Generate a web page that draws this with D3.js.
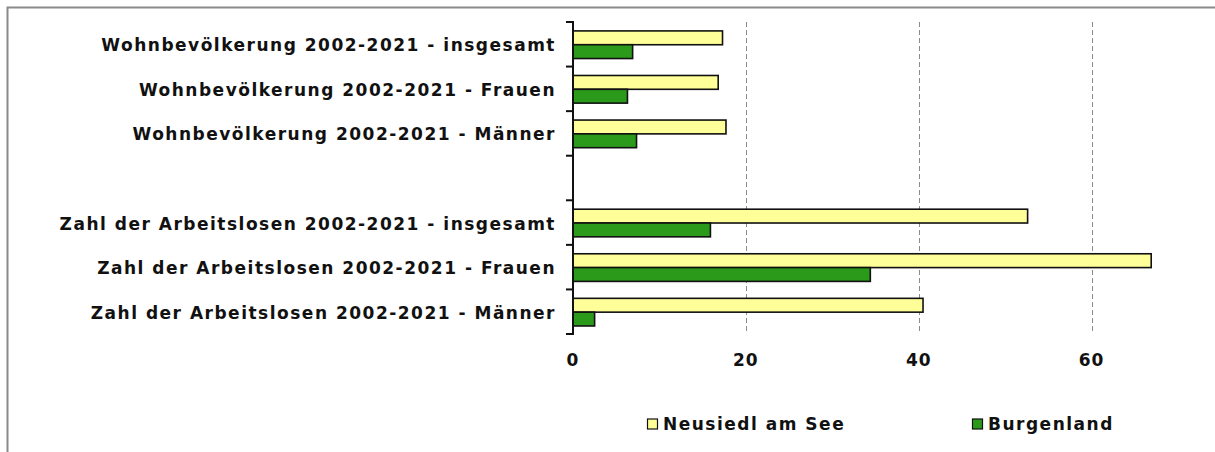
<!DOCTYPE html>
<html>
<head>
<meta charset="utf-8">
<script src="https://cdn.jsdelivr.net/npm/d3@7"></script>
<style>
  html, body { margin: 0; padding: 0; background: #fff; }
  svg { display: block; font-family: "DejaVu Sans", Verdana, sans-serif; font-weight: bold; }
</style>
</head>
<body>
<div id="chart"></div>
<script>
// categories top to bottom ('' is the empty gap row)
const categories = [
  'Wohnbevölkerung 2002-2021 - insgesamt',
  'Wohnbevölkerung 2002-2021 - Frauen',
  'Wohnbevölkerung 2002-2021 - Männer',
  '',
  'Zahl der Arbeitslosen 2002-2021 - insgesamt',
  'Zahl der Arbeitslosen 2002-2021 - Frauen',
  'Zahl der Arbeitslosen 2002-2021 - Männer'
];
const seriesNames = ['Neusiedl am See', 'Burgenland'];
const neusiedl = [17.3, 16.8, 17.7, null, 52.6, 66.9, 40.5];
const burgenland = [6.9, 6.3, 7.35, null, 15.9, 34.4, 2.5];
const xTicks = [0, 20, 40, 60];
const colors = ['#ffff99', '#2b9a1b'];

function drawChart() {
  const width = 1215, height = 452;
  const margin = { top: 22, right: 37, bottom: 118, left: 573 };

  const svg = d3.select('#chart').append('svg')
    .attr('width', width)
    .attr('height', height);

  // outer frame (top and left only visible)
  svg.append('path')
    .attr('d', `M7.5,${height}V7.5H${width}`)
    .attr('fill', 'none')
    .attr('stroke', '#8a8a8a')
    .attr('stroke-width', 2);

  const x = d3.scaleLinear()
    .domain([0, 70])
    .range([margin.left, width - margin.right]);

  const y = d3.scaleBand()
    .domain(d3.range(categories.length))
    .range([margin.top, height - margin.bottom]);

  const ySub = d3.scaleBand()
    .domain([0, 1])
    .range([y.bandwidth() * 0.2, y.bandwidth() * 0.82]);

  // dashed gridlines
  svg.append('g')
    .selectAll('line')
    .data(xTicks.filter(d => d > 0))
    .join('line')
    .attr('x1', d => Math.round(x(d)) + 0.5)
    .attr('x2', d => Math.round(x(d)) + 0.5)
    .attr('y1', margin.top)
    .attr('y2', height - margin.bottom)
    .attr('stroke', '#8a8a8a')
    .attr('stroke-width', 1)
    .attr('stroke-dasharray', '5,3');

  // bars
  const rows = categories.map((c, i) => ({ i, values: [neusiedl[i], burgenland[i]] }));
  const groups = svg.append('g')
    .selectAll('g')
    .data(rows.filter(r => r.values[0] != null))
    .join('g')
    .attr('transform', d => `translate(0,${y(d.i)})`);

  groups.selectAll('rect')
    .data(d => d.values.map((v, s) => ({ v, s })))
    .join('rect')
    .attr('x', x(0))
    .attr('y', d => ySub(d.s))
    .attr('width', d => x(d.v) - x(0))
    .attr('height', ySub.bandwidth())
    .attr('fill', d => colors[d.s])
    .attr('stroke', '#111')
    .attr('stroke-width', 1.6);

  // y axis
  const yAxis = svg.append('g')
    .attr('transform', `translate(${x(0)},0)`);
  yAxis.append('line')
    .attr('y1', margin.top - 1)
    .attr('y2', height - margin.bottom + 1)
    .attr('stroke', '#111')
    .attr('stroke-width', 2);
  yAxis.selectAll('.tick')
    .data(d3.range(categories.length + 1))
    .join('line')
    .attr('x1', -7)
    .attr('x2', 0)
    .attr('y1', d => d < categories.length ? y(d) : height - margin.bottom)
    .attr('y2', d => d < categories.length ? y(d) : height - margin.bottom)
    .attr('stroke', '#111')
    .attr('stroke-width', 2);
  yAxis.selectAll('text')
    .data(categories.map((c, i) => ({ c, i })).filter(d => d.c))
    .join('text')
    .attr('x', -17)
    .attr('y', d => y(d.i) + y.bandwidth() / 2 + 1)
    .attr('dy', '0.35em')
    .attr('text-anchor', 'end')
    .attr('font-size', 17)
    .attr('letter-spacing', 1.5)
    .attr('fill', '#111')
    .text(d => d.c);

  // x tick labels (no axis line)
  svg.append('g')
    .selectAll('text')
    .data(xTicks)
    .join('text')
    .attr('x', d => x(d))
    .attr('y', height - margin.bottom + 26)
    .attr('dy', '0.35em')
    .attr('text-anchor', 'middle')
    .attr('font-size', 17)
    .attr('letter-spacing', 1)
    .attr('fill', '#111')
    .text(d => d);

  // legend
  const legendX = [647, 972];
  const legend = svg.append('g')
    .selectAll('g')
    .data(seriesNames)
    .join('g')
    .attr('transform', (d, i) => `translate(${legendX[i]},424)`);
  legend.append('rect')
    .attr('x', 0.5)
    .attr('y', -5)
    .attr('width', 10)
    .attr('height', 10)
    .attr('fill', (d, i) => colors[i])
    .attr('stroke', '#111')
    .attr('stroke-width', 1.2);
  legend.append('text')
    .attr('x', 16)
    .attr('y', 0)
    .attr('dy', '0.35em')
    .attr('font-size', 17)
    .attr('letter-spacing', 1.5)
    .attr('fill', '#111')
    .text(d => d);
}

document.addEventListener('DOMContentLoaded', drawChart);
</script>
</body>
</html>
